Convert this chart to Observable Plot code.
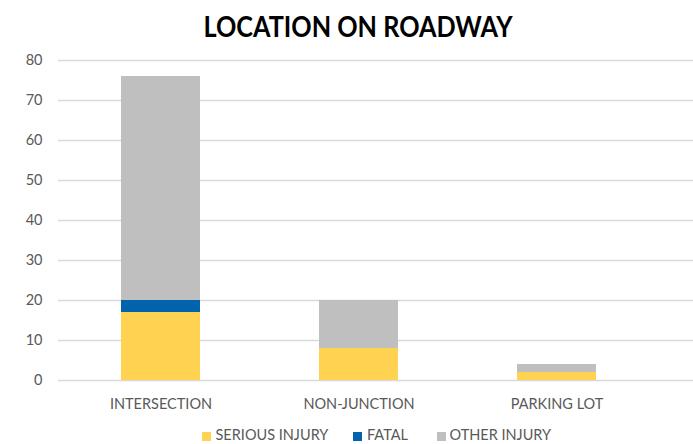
<!DOCTYPE html>
<html>
<head>
<meta charset="utf-8">
<script src="https://cdn.jsdelivr.net/npm/d3@7"></script>
<script src="https://cdn.jsdelivr.net/npm/@observablehq/plot@0.6"></script>
<style>
  html, body { margin: 0; padding: 0; background: #fff; }
  body { width: 693px; height: 444px; overflow: hidden; font-family: Lato, "Open Sans", sans-serif; }
  #title { position: relative; height: 48px; }
  #title span { position: absolute; left: 357.5px; top: 10.5px; transform-origin: 0 0;
    font-size: 29px; line-height: 29px; font-weight: bold; color: #000; white-space: nowrap; }
  #legend { position: relative; height: 24px; }
  #legend .sw { position: absolute; width: 9px; height: 9px; top: 11.5px; }
  #legend .lb { position: absolute; top: 8.9px; font-size: 14.5px; line-height: 12px; color: #595959; white-space: nowrap; }
</style>
</head>
<body>
<div id="title"><span id="titletext">LOCATION ON ROADWAY</span></div>
<div id="chart"></div>
<div id="legend"></div>
<script>
const categories = ["INTERSECTION", "NON-JUNCTION", "PARKING LOT"];
const seriesNames = ["SERIOUS INJURY", "FATAL", "OTHER INJURY"];
const seriousInjury = [17, 8, 2];
const fatal = [3, 0, 0];
const otherInjury = [56, 12, 2];
const yTicks = [0, 10, 20, 30, 40, 50, 60, 70, 80];
const seriesColors = ["#FFD351", "#0063AC", "#BFBFBF"];

const seriesValues = [seriousInjury, fatal, otherInjury];
const rows = [];
categories.forEach((c, i) => {
  seriesNames.forEach((s, j) => {
    rows.push({category: c, series: s, value: seriesValues[j][i]});
  });
});

const chart = Plot.plot({
  width: 693,
  height: 372,
  marginTop: 12,
  marginBottom: 40,
  marginLeft: 58,
  marginRight: 0,
  style: {fontFamily: "Lato, 'Open Sans', sans-serif", fontSize: "14.5px", color: "#595959", background: "transparent"},
  x: {domain: categories, range: [61, 656], paddingInner: 0.6, paddingOuter: 0.3, label: null},
  y: {domain: [0, 80], ticks: yTicks, label: null},
  color: {domain: seriesNames, range: seriesColors},
  marks: [
    Plot.gridY(yTicks, {stroke: "#d9d9d9", strokeOpacity: 1, strokeWidth: 1.3}),
    Plot.barY(rows, {x: "category", y: "value", fill: "series", order: seriesNames}),
    Plot.axisY(yTicks, {tickSize: 0, tickPadding: 16, label: null, fill: "#595959"}),
    Plot.axisX({tickSize: 0, tickPadding: 18, label: null, fill: "#595959"})
  ]
});
document.getElementById("chart").appendChild(chart);

// fit title width to the reference's rendered width
const tt = document.getElementById("titletext");
const tw = tt.getBoundingClientRect().width;
const sx = 309 / tw;
tt.style.transform = `translateX(${-309 / 2}px) scaleX(${sx})`;

const legend = document.getElementById("legend");
const swX = [202, 353, 437];
const lbX = [215.5, 367, 449.5];
seriesNames.forEach((s, i) => {
  const sw = document.createElement("div");
  sw.className = "sw";
  sw.style.left = swX[i] + "px";
  sw.style.background = seriesColors[i];
  legend.appendChild(sw);
  const lb = document.createElement("div");
  lb.className = "lb";
  lb.style.left = lbX[i] + "px";
  lb.textContent = s;
  legend.appendChild(lb);
});
</script>
</body>
</html>
